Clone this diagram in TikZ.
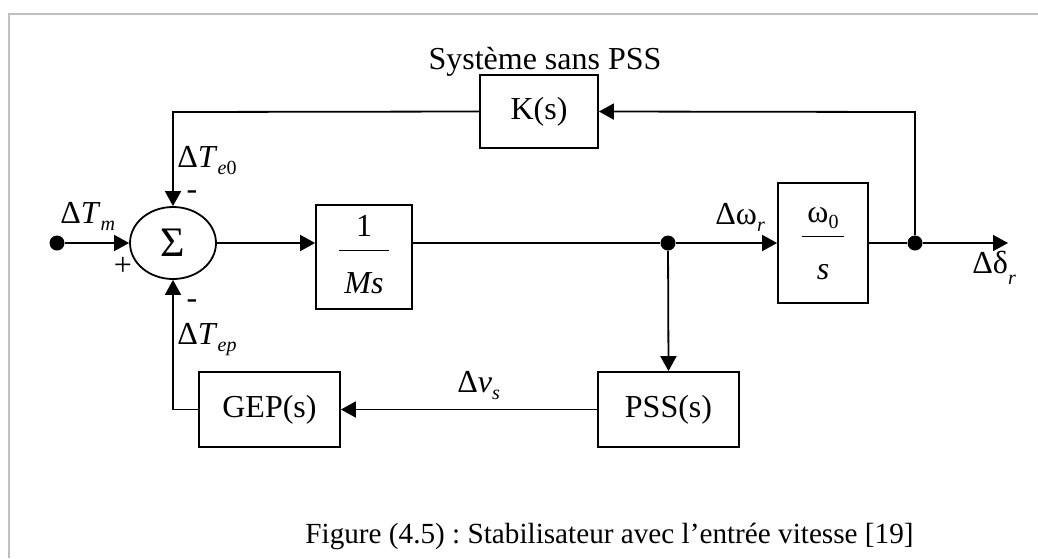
\documentclass[tikz,border=0pt]{standalone}
\usepackage{fontspec}
\setmainfont{Liberation Serif}
\usetikzlibrary{arrows.meta,shapes.geometric}
\frenchspacing
% lowered small subscript
\newcommand\lowsub[2][-0.5ex]{\raisebox{#1}{\fontsize{10}{11}\selectfont #2}}
% stacked fraction inside a block
\newcommand\blockfrac[2]{\begin{tabular}{@{\hspace{2.5pt}}c@{\hspace{2.5pt}}}#1\\[1pt]\hline\rule{0pt}{2.9ex}#2\end{tabular}}

\begin{document}
\begin{tikzpicture}[x=0.5pt,y=-0.5pt,
  font=\fontsize{16}{19}\selectfont,
  blk/.style={draw,line width=0.9pt,inner sep=0pt},
  wire/.style={line width=0.9pt},
  arr/.style={wire,-{Triangle[length=7.5pt,width=8pt]}},
  junc/.style={circle,fill,inner sep=0pt,minimum size=7.5pt},
  lbl/.style={inner sep=0pt,anchor=base west},
  sgn/.style={inner sep=0pt},
  frameline/.style={draw=black!25,line width=1pt}]
\useasboundingbox (0,0) rectangle (1038,558);
\draw[frameline] (9,558) -- (9,14) -- (1038,14);

% blocks
\node[blk,ellipse,minimum width=43pt,minimum height=36pt] (sum) at (173,243) {\fontsize{21}{24}\selectfont Σ};
\node[blk,minimum width=48pt,minimum height=52pt] (ms) at (364,257) {\blockfrac{1}{\textit{Ms}}};
\node[blk,minimum width=45pt,minimum height=60pt] (w) at (823,243) {\blockfrac{ω\lowsub[-0.4ex]{0}}{\textit{s}}};
\node[blk,minimum width=59pt,minimum height=36.5pt] (k) at (539,111.5) {K(s)};
\node[blk,minimum width=70.5pt,minimum height=37.5pt] (gep) at (269.5,409.5) {GEP(s)};
\node[blk,minimum width=70.5pt,minimum height=37.5pt] (pss) at (668.5,409.5) {PSS(s)};

% junctions and free ends
\node[junc] (in) at (57,243) {};
\node[junc] (j1) at (668,243) {};
\node[junc] (j2) at (915,243) {};
\coordinate (out) at (1008,243);
\coordinate (ktop) at (915,112);
\coordinate (kleft) at (173,112);
\coordinate (gleft) at (173,409.5);

% connectors
\draw[arr] (in) -- (sum.west);
\draw[arr] (sum.east) -- (sum.east -| ms.west);
\draw[wire] (j1 -| ms.east) -- (j1);
\draw[arr] (j1) -- (w.west);
\draw[wire] (w.east) -- (j2);
\draw[arr] (j2) -- (out);
\draw[arr] (j2) -- (ktop) -- (k.east);
\draw[arr] (k.west) -- (kleft) -- (sum.north);
\draw[arr] (j1) -- (pss.north);
\draw[arr] (pss.west) -- (gep.east);
\draw[arr] (gep.west) -- (gleft) -- (sum.south);

% labels
\node[lbl] (tm) at (60,223) {Δ\textit{T}\lowsub{\textit{m}}};
\node[sgn] (plus) at (123,266) {+};
\node[sgn] (mtop) at (192,195) {-};
\node[sgn] (mbot) at (192,304) {-};
\node[lbl] (te0) at (177,167) {Δ\textit{T}\lowsub{\textit{e}0}};
\node[lbl] (tep) at (177,344) {Δ\textit{T}\lowsub{\textit{ep}}};
\node[lbl] (vs) at (457,392) {Δ\textit{v}\lowsub{\textit{s}}};
\node[lbl] (wr) at (715,224) {Δω\lowsub{\textit{r}}};
\node[lbl] (dr) at (972,273) {Δδ\lowsub[-0.8ex]{\textit{r}}};
\node[inner sep=0pt,anchor=base] (title) at (545,69) {Système sans PSS};
\node[lbl,font=\fontsize{14.6}{17}\selectfont] (cap) at (305,543) {Figure (4.5) : Stabilisateur avec l’entrée vitesse [19]};
\end{tikzpicture}
\end{document}
